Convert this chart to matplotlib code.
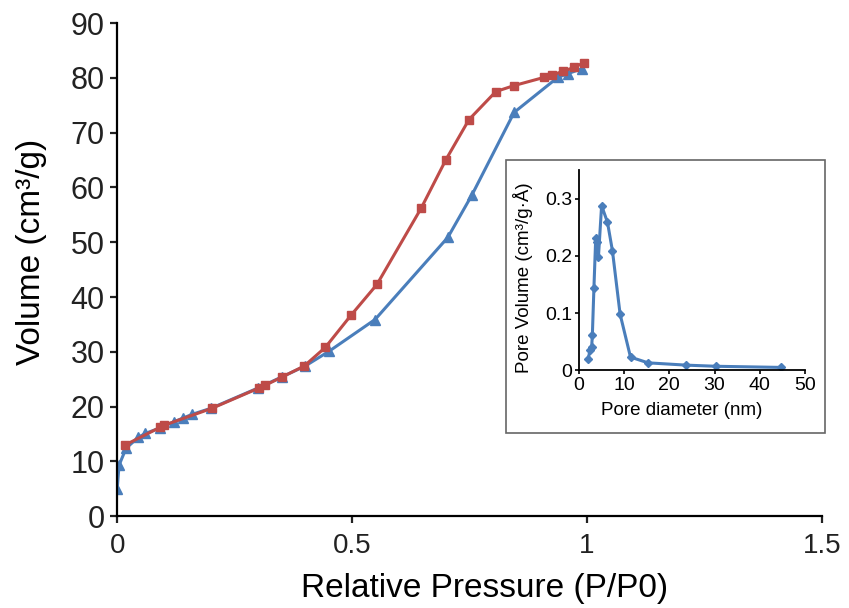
import matplotlib
matplotlib.use('Agg')
import matplotlib.pyplot as plt
from matplotlib.patches import Rectangle

plt.rcParams['font.family'] = ['Liberation Sans', 'DejaVu Sans']

# Adsorption branch (blue triangles)
ads_p = [0.0, 0.004, 0.019, 0.045, 0.06, 0.091, 0.12, 0.14, 0.16, 0.2, 0.3, 0.35,
         0.4, 0.451, 0.549, 0.704, 0.755, 0.845, 0.938, 0.96, 0.99]
ads_v = [4.9, 9.3, 12.4, 14.4, 15.1, 16.1, 17.2, 17.9, 18.6, 19.7, 23.4, 25.4,
         27.4, 30.1, 35.9, 50.9, 58.6, 73.7, 80.1, 80.8, 81.7]

# Desorption branch (red squares)
des_p = [0.994, 0.972, 0.949, 0.925, 0.909, 0.845, 0.806, 0.749, 0.700, 0.647,
         0.553, 0.498, 0.443, 0.398, 0.351, 0.315, 0.302, 0.202, 0.100, 0.091, 0.017]
des_v = [82.8, 81.9, 81.2, 80.5, 80.1, 78.6, 77.5, 72.4, 65.1, 56.2,
         42.3, 36.7, 30.8, 27.4, 25.4, 23.9, 23.4, 19.7, 16.6, 16.2, 13.0]

# Pore size distribution (inset)
pore_d = [2.06, 2.4, 2.8, 2.95, 3.3, 3.7, 4.05, 4.3, 5.0, 6.3, 7.4, 9.1,
          11.4, 15.3, 23.7, 30.3, 44.7]
pore_v = [0.020, 0.035, 0.041, 0.061, 0.144, 0.232, 0.224, 0.198, 0.288, 0.259,
          0.209, 0.098, 0.023, 0.013, 0.009, 0.007, 0.005]

blue = '#4A7EBB'
red = '#BE4B48'

fig = plt.figure(figsize=(8.49, 6.08), dpi=100)
ax = fig.add_axes([0.138, 0.151, 0.830, 0.811])

ax.plot(ads_p, ads_v, color=blue, lw=2.2, marker='^', ms=6.5, zorder=2)
ax.plot(des_p, des_v, color=red, lw=2.2, marker='s', ms=6, zorder=3)

ax.set_xlim(0, 1.5)
ax.set_ylim(0, 90)
ax.set_xticks([0, 0.5, 1, 1.5])
ax.set_xticklabels(['0', '0.5', '1', '1.5'])
ax.set_yticks(range(0, 91, 10))
ax.tick_params(width=1.6, length=5, direction='out', colors='#222222')
ax.tick_params(axis='y', labelsize=22, pad=4)
ax.tick_params(axis='x', labelsize=20, pad=7)
ax.spines['top'].set_visible(False)
ax.spines['right'].set_visible(False)
ax.spines['left'].set_linewidth(1.6)
ax.spines['bottom'].set_linewidth(1.6)
ax.set_xlabel('Relative Pressure (P/P0)', fontsize=24)
ax.set_ylabel('Volume (cm³/g)', fontsize=24)
ax.xaxis.set_label_coords(0.522, -0.115)
ax.yaxis.set_label_coords(-0.1, 0.537)

# Inset frame
fig.patches.append(Rectangle((0.596, 0.288), 0.376, 0.449, transform=fig.transFigure,
                             fill=True, facecolor='white', edgecolor='#666666', lw=1.2, zorder=5))

ins = fig.add_axes([0.682, 0.391, 0.266, 0.329])
ins.set_zorder(6)
ins.plot(pore_d, pore_v, color=blue, lw=2.2, marker='D', ms=4.5)
ins.set_xlim(0, 50)
ins.set_ylim(0, 0.35)
ins.set_xticks(range(0, 51, 10))
ins.set_yticks([0, 0.1, 0.2, 0.3])
ins.set_yticklabels(['0', '0.1', '0.2', '0.3'])
ins.tick_params(labelsize=14, length=3, width=1.2, pad=2)
ins.spines['top'].set_visible(False)
ins.spines['right'].set_visible(False)
ins.spines['left'].set_linewidth(1.3)
ins.spines['bottom'].set_linewidth(1.3)
ins.set_xlabel('Pore diameter (nm)', fontsize=13.5)
ins.set_ylabel('Pore Volume (cm³/g·Å)', fontsize=13.5)
ins.xaxis.set_label_coords(0.455, -0.16)
ins.yaxis.set_label_coords(-0.205, 0.465)

fig.savefig('out.png', dpi=100)
